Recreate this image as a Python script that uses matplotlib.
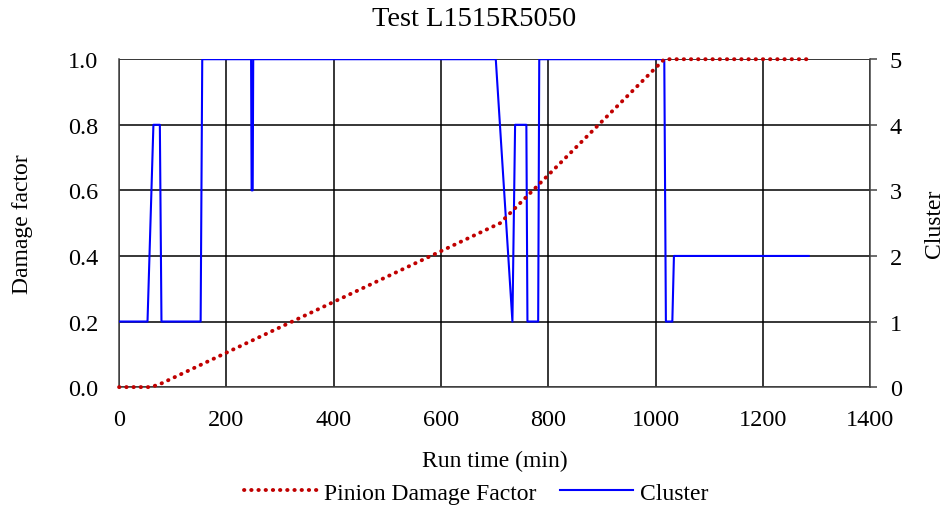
import matplotlib.pyplot as plt

plt.rcParams["font.family"] = ["Liberation Serif", "DejaVu Serif"]

# Pinion damage factor (left axis)
damage_time = [0, 60, 80, 710, 1016, 1285]
damage_value = [0.0, 0.0, 0.012, 0.5, 1.0, 1.0]

# Cluster id (right axis)
cluster_time = [0, 53, 64, 76, 79, 152, 155, 246, 247, 249, 250, 702, 733, 738, 759, 761, 781,
                783, 1016, 1019, 1031, 1034, 1285]
cluster_value = [1, 1, 4, 4, 1, 1, 5, 5, 3, 3, 5, 5, 1, 4, 4, 1, 1,
                 5, 5, 1, 1, 2, 2]

x_ticks = [0, 200, 400, 600, 800, 1000, 1200, 1400]
y_ticks = [0.0, 0.2, 0.4, 0.6, 0.8, 1.0]
y2_ticks = [0, 1, 2, 3, 4, 5]


def main():
    fig = plt.figure(figsize=(9.45, 5.06), dpi=100)
    ax = fig.add_axes([0.126, 0.233, 0.795, 0.648])
    ax2 = ax.twinx()

    ax.set_xlim(0, 1400)
    ax.set_ylim(0, 1.0)
    ax2.set_ylim(0, 5)
    ax.set_xticks(x_ticks)
    ax.set_yticks(y_ticks)
    ax.set_yticklabels([f"{v:.1f}" for v in y_ticks])
    ax2.set_yticks(y2_ticks)

    ax.grid(True, color="black", linewidth=1.1)
    ax.set_axisbelow(True)

    l2, = ax2.plot(cluster_time, cluster_value, color="#0000ff", linewidth=1.5,
                   label="Cluster")
    # damage line drawn on the top axes so the dots sit above the spine
    l1, = ax2.plot(damage_time, [v * 5 for v in damage_value], color="#c00000",
                   linestyle=(0, (0.1, 1.75)), linewidth=2.8, dash_capstyle="round",
                   clip_on=False, zorder=3, label="Pinion Damage Factor")

    ax.spines["top"].set_visible(False)
    ax.spines["right"].set_visible(False)
    for side in ("top", "left", "bottom"):
        ax2.spines[side].set_visible(False)
    for sp in (ax.spines["left"], ax.spines["bottom"], ax2.spines["right"]):
        sp.set_color("#444444")
        sp.set_linewidth(1.1)
        sp.set_zorder(1)

    ax.tick_params(labelsize=17.5, length=0, pad=15)
    ax.tick_params(axis="x", pad=16)
    ax2.tick_params(labelsize=17.5, length=5, width=1.1, color="#444444", pad=9)

    ax.set_xlabel("Run time (min)", fontsize=17, labelpad=14)
    ax.set_ylabel("Damage factor", fontsize=17, labelpad=25)
    ax2.set_ylabel("Cluster", fontsize=17, labelpad=16)

    fig.text(0.502, 0.962, "Test L1515R5050", fontsize=20.5, ha="center", va="center")

    fig.legend([l1, l2], ["Pinion Damage Factor", "Cluster"], loc="center",
               bbox_to_anchor=(0.504, 0.024), ncol=2, frameon=False, fontsize=17,
               handlelength=3.1, columnspacing=1.0, handletextpad=0.3)

    fig.savefig("out.png", dpi=100)


if __name__ == "__main__":
    main()
